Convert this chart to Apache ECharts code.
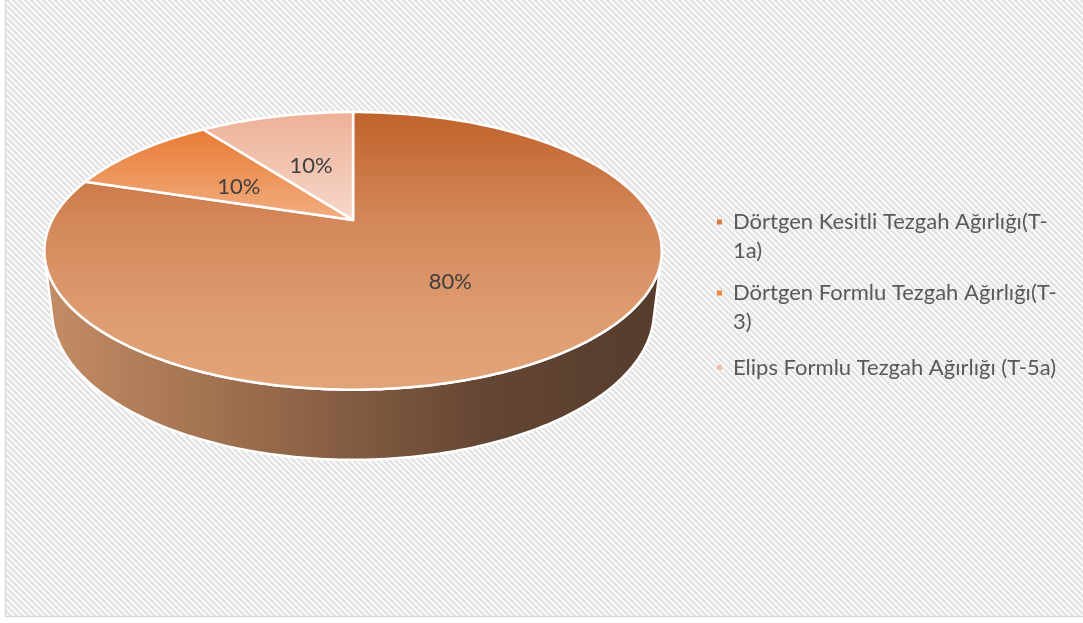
<!DOCTYPE html>
<html>
<head>
<meta charset="utf-8">
<script src="https://cdn.jsdelivr.net/npm/echarts@6/dist/echarts.min.js"></script>
<style>
  html, body { margin: 0; padding: 0; background: #ffffff; }
  #chart { width: 1083px; height: 623px; }
</style>
</head>
<body>
<div id="chart"></div>
<script>
// ---- data ----
const categories = [
  'Dörtgen Kesitli Tezgah Ağırlığı(T-1a)',
  'Dörtgen Formlu Tezgah Ağırlığı(T-3)',
  'Elips Formlu Tezgah Ağırlığı (T-5a)'
];
const shares = [80, 10, 10];
// legend text as it wraps beside the pie
const legendLines = [
  ['Dörtgen Kesitli Tezgah Ağırlığı(T-', '1a)'],
  ['Dörtgen Formlu Tezgah Ağırlığı(T-', '3)'],
  ['Elips Formlu Tezgah Ağırlığı (T-5a)']
];

// ---- styling ----
const markerColors = ['#db7b45', '#f0883f', '#f4bda7'];
const topGradients = [
  [['0', '#c0622a'], ['0.4', '#d4885b'], ['0.75', '#de9d71'], ['1', '#e1a478']],
  [['0', '#e97b34'], ['1', '#f1ae81']],
  [['0', '#edb096'], ['1', '#f7d8cb']]
];
const wallStops = [['0', '#c48d65'], ['0.35', '#986a4b'], ['0.72', '#634533'], ['1', '#563c2c']];

// 3D pie geometry: tilt of the disc, perspective strength, thickness (in radii)
const TILT = 26 * Math.PI / 180;
const PERSP = 0.248;
const DEPTH = 0.223;

function project(cx, cy, s, r, deg, v) {
  const t = deg * Math.PI / 180;
  const u = r * Math.cos(t), w = r * Math.sin(t);
  const yv = v * Math.cos(TILT) + w * Math.sin(TILT);
  const den = 1 + PERSP * (w * Math.cos(TILT) - v * Math.sin(TILT));
  return [cx + s * u / den, cy - s * yv / den];
}

function grad(stops, horizontal) {
  return new echarts.graphic.LinearGradient(0, 0, horizontal ? 1 : 0, horizontal ? 0 : 1,
    stops.map(([o, c]) => ({ offset: +o, color: c })));
}

function makeRender(idx) {
  return function (params, api) {
    const W = api.getWidth(), H = api.getHeight();
    const cx = W * 0.326, cy = H * 0.353, s = H * 0.483;
    const total = shares.reduce((a, b) => a + b, 0);
    let before = 0;
    for (let j = 0; j < idx; j++) before += shares[j];
    const val = api.value(0);
    const a0 = 90 - 360 * before / total;      // slices run clockwise from 12 o'clock
    const a1 = a0 - 360 * val / total;
    const children = [];

    // visible part of the outer rim
    const lim = Math.asin(PERSP / Math.cos(TILT)) * 180 / Math.PI;
    [-360, 0, 360].forEach(shift => {
      const lo = Math.max(a1, -180 + lim + shift);
      const hi = Math.min(a0, -lim + shift);
      if (lo < hi) {
        const pts = [];
        for (let t = hi; t > lo; t -= 1) pts.push(project(cx, cy, s, 1, t, 0));
        pts.push(project(cx, cy, s, 1, lo, 0));
        for (let t = lo; t < hi; t += 1) pts.push(project(cx, cy, s, 1, t, -DEPTH));
        pts.push(project(cx, cy, s, 1, hi, -DEPTH));
        children.push({
          type: 'polygon', z2: 1,
          shape: { points: pts },
          style: { fill: grad(wallStops, true), stroke: '#ffffff', lineWidth: 2.5, lineJoin: 'round' }
        });
      }
    });

    // top face
    const top = [project(cx, cy, s, 0, 0, 0)];
    for (let t = a0; t > a1; t -= 1) top.push(project(cx, cy, s, 1, t, 0));
    top.push(project(cx, cy, s, 1, a1, 0));
    children.push({
      type: 'polygon', z2: 2,
      shape: { points: top },
      style: { fill: grad(topGradients[idx], false), stroke: '#ffffff', lineWidth: 2.5, lineJoin: 'round' }
    });

    // percentage label
    const lp = project(cx, cy, s, 0.5, (a0 + a1) / 2, 0);
    children.push({
      type: 'text', z2: 3,
      x: lp[0], y: lp[1] + 3,
      style: {
        text: Math.round(val / total * 100) + '%',
        fill: '#404040', font: '22px Lato',
        align: 'center', verticalAlign: 'middle'
      }
    });
    return { type: 'group', children };
  };
}

function hatchTile() {
  const n = 6;
  const c = document.createElement('canvas');
  c.width = n; c.height = n;
  const g = c.getContext('2d');
  g.fillStyle = '#f9f9f9';
  g.fillRect(0, 0, n, n);
  g.fillStyle = '#e3e3e3';
  for (let y = 0; y < n; y++) {
    for (let x = 0; x < n; x++) {
      if ((((x - y) % n) + n) % n < 3) g.fillRect(x, y, 1, 1);
    }
  }
  return c;
}

const rich = {
  t: { fontFamily: 'Lato', fontSize: 22, color: '#595959', lineHeight: 29 },
  g: { width: 11 },
  p: { width: 16 }
};
markerColors.forEach((c, i) => { rich['m' + i] = { width: 5, height: 5, backgroundColor: c }; });

const chart = echarts.init(document.getElementById('chart'), null, { renderer: 'canvas' });
chart.setOption({
  animation: false,
  graphic: [{
    type: 'rect', z: -1, silent: true,
    shape: { x: 5.5, y: -4, width: 1090, height: 620.5 },
    style: { fill: { image: hatchTile(), repeat: 'repeat' }, stroke: '#d9d9d9', lineWidth: 1.5 }
  }],
  legend: {
    orient: 'vertical',
    left: 712, top: 211,
    padding: 0,
    itemGap: 20,
    itemWidth: 0, itemHeight: 29,
    icon: 'none',
    selectedMode: false,
    data: categories,
    formatter: name => {
      const i = categories.indexOf(name);
      return legendLines[i].map((ln, k) => (k === 0 ? '{m' + i + '|}{g|}' : '{p|}') + '{t|' + ln + '}').join('\n');
    },
    textStyle: { fontFamily: 'Lato', fontSize: 22, color: '#595959', rich }
  },
  series: categories.map((name, i) => ({
    type: 'custom',
    name,
    coordinateSystem: 'none',
    color: markerColors[i],
    renderItem: makeRender(i),
    data: [[shares[i]]],
    silent: true
  }))
});
</script>
</body>
</html>
